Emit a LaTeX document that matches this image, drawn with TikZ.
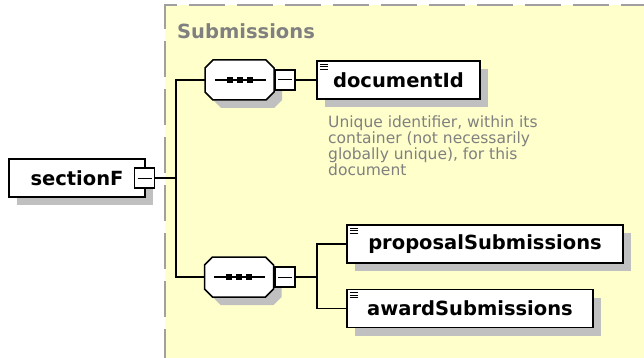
\documentclass[tikz,border=0pt]{standalone}
\usepackage{fontspec}
\setmainfont{DejaVu Sans}
\usetikzlibrary{shadows}
\definecolor{grpyellow}{RGB}{255,255,204}
\definecolor{dashgray}{RGB}{160,160,160}
\definecolor{shgray}{RGB}{192,192,192}
\definecolor{txtgray}{RGB}{128,128,128}
\tikzset{
  shad/.style={drop shadow={shadow xshift=8pt,shadow yshift=-8pt,fill=shgray,opacity=1}},
  elem/.style={draw=black,line width=1.7pt,fill=white,shad,minimum height=38pt,inner sep=0pt,
    font=\fontsize{19.5}{22}\selectfont\bfseries},
  seqbox/.style={minimum width=69pt,minimum height=40pt,inner sep=0pt},
  minusbox/.style={draw=black,line width=1.5pt,fill=white,minimum width=20pt,minimum height=20pt,inner sep=0pt},
  conn/.style={draw=black,line width=1.7pt},
  icon/.style={draw=black,line width=1pt},
  octa/.style={draw=black,line width=1.5pt,fill=white}
}
\begin{document}
\begin{tikzpicture}[x=1pt,y=-1pt]
\useasboundingbox (0,0) rectangle (644,358);
% group box
\fill[grpyellow] (165,5) rectangle (650,365);
\draw[dashgray,line width=2pt,dash pattern=on 36pt off 12pt] (165,365) -- (165,5) -- (650,5);
\node[anchor=base west,inner sep=0pt,text=txtgray,font=\fontsize{19.5}{22}\selectfont\bfseries] (grp) at (177,39) {Submissions};

% elements
\node[elem,minimum width=136pt] (sf) at (77,178) {sectionF};
\node[minusbox] (sfm) at (144.5,178) {};
\draw[icon] (sfm.center) ++(-7,0) -- ++(14,0);

\node[seqbox] (seq1) at (239.5,80) {};
\node[seqbox] (seq2) at (239,277) {};
\foreach \s in {seq1,seq2}{
  \begin{scope}[shift={(\s.center)}]
    \fill[shgray] (-18.5,-12) -- (34.5,-12) -- (42.5,-4) -- (42.5,20) -- (34.5,28) -- (-18.5,28) -- (-26.5,20) -- (-26.5,-4) -- cycle;
    \draw[octa] (-26.5,-20) -- (26.5,-20) -- (34.5,-12) -- (34.5,12) -- (26.5,20) -- (-26.5,20) -- (-34.5,12) -- (-34.5,-12) -- cycle;
    \draw[black,line width=1.5pt] (-25,0) -- (26,0);
    \fill[black] (-13,-3) rectangle (-7,3);
    \fill[black] (-3,-3) rectangle (3,3);
    \fill[black] (7,-3) rectangle (13,3);
  \end{scope}
}
\node[minusbox] (m1) at (285,80) {};
\node[minusbox] (m2) at (285,277) {};
\draw[icon] (m1.center) ++(-7,0) -- ++(14,0);
\draw[icon] (m2.center) ++(-7,0) -- ++(14,0);

\node[elem,minimum width=163pt] (doc) at (398.5,80) {documentId};
\node[elem,minimum width=276pt] (prop) at (485,244) {proposalSubmissions};
\node[elem,minimum width=246pt] (award) at (470,308.5) {awardSubmissions};
\foreach \n in {doc,prop,award}{
  \draw[icon] (\n.north west) ++(4,4) -- ++(8,0);
  \draw[icon] (\n.north west) ++(4,6.5) -- ++(8,0);
  \draw[icon] (\n.north west) ++(4,9) -- ++(8,0);
}

% annotation
\node[anchor=north west,inner sep=0pt,align=left,text=txtgray,font=\fontsize{15.5}{16}\selectfont] (note) at (328,116)
  {Unique identifier, within its\\container (not necessarily\\globally unique), for this\\document};

% connectors
\coordinate (trunk) at (176,178);
\coordinate (br) at (317,277);
\draw[conn] (sfm.east) -- (trunk);
\draw[conn] (seq1.west) -| (trunk) |- (seq2.west);
\draw[conn] (m1.east) -- (doc.west);
\draw[conn] (m2.east) -- (br);
\draw[conn] (prop.west) -| (br) |- (award.west);
\end{tikzpicture}
\end{document}
